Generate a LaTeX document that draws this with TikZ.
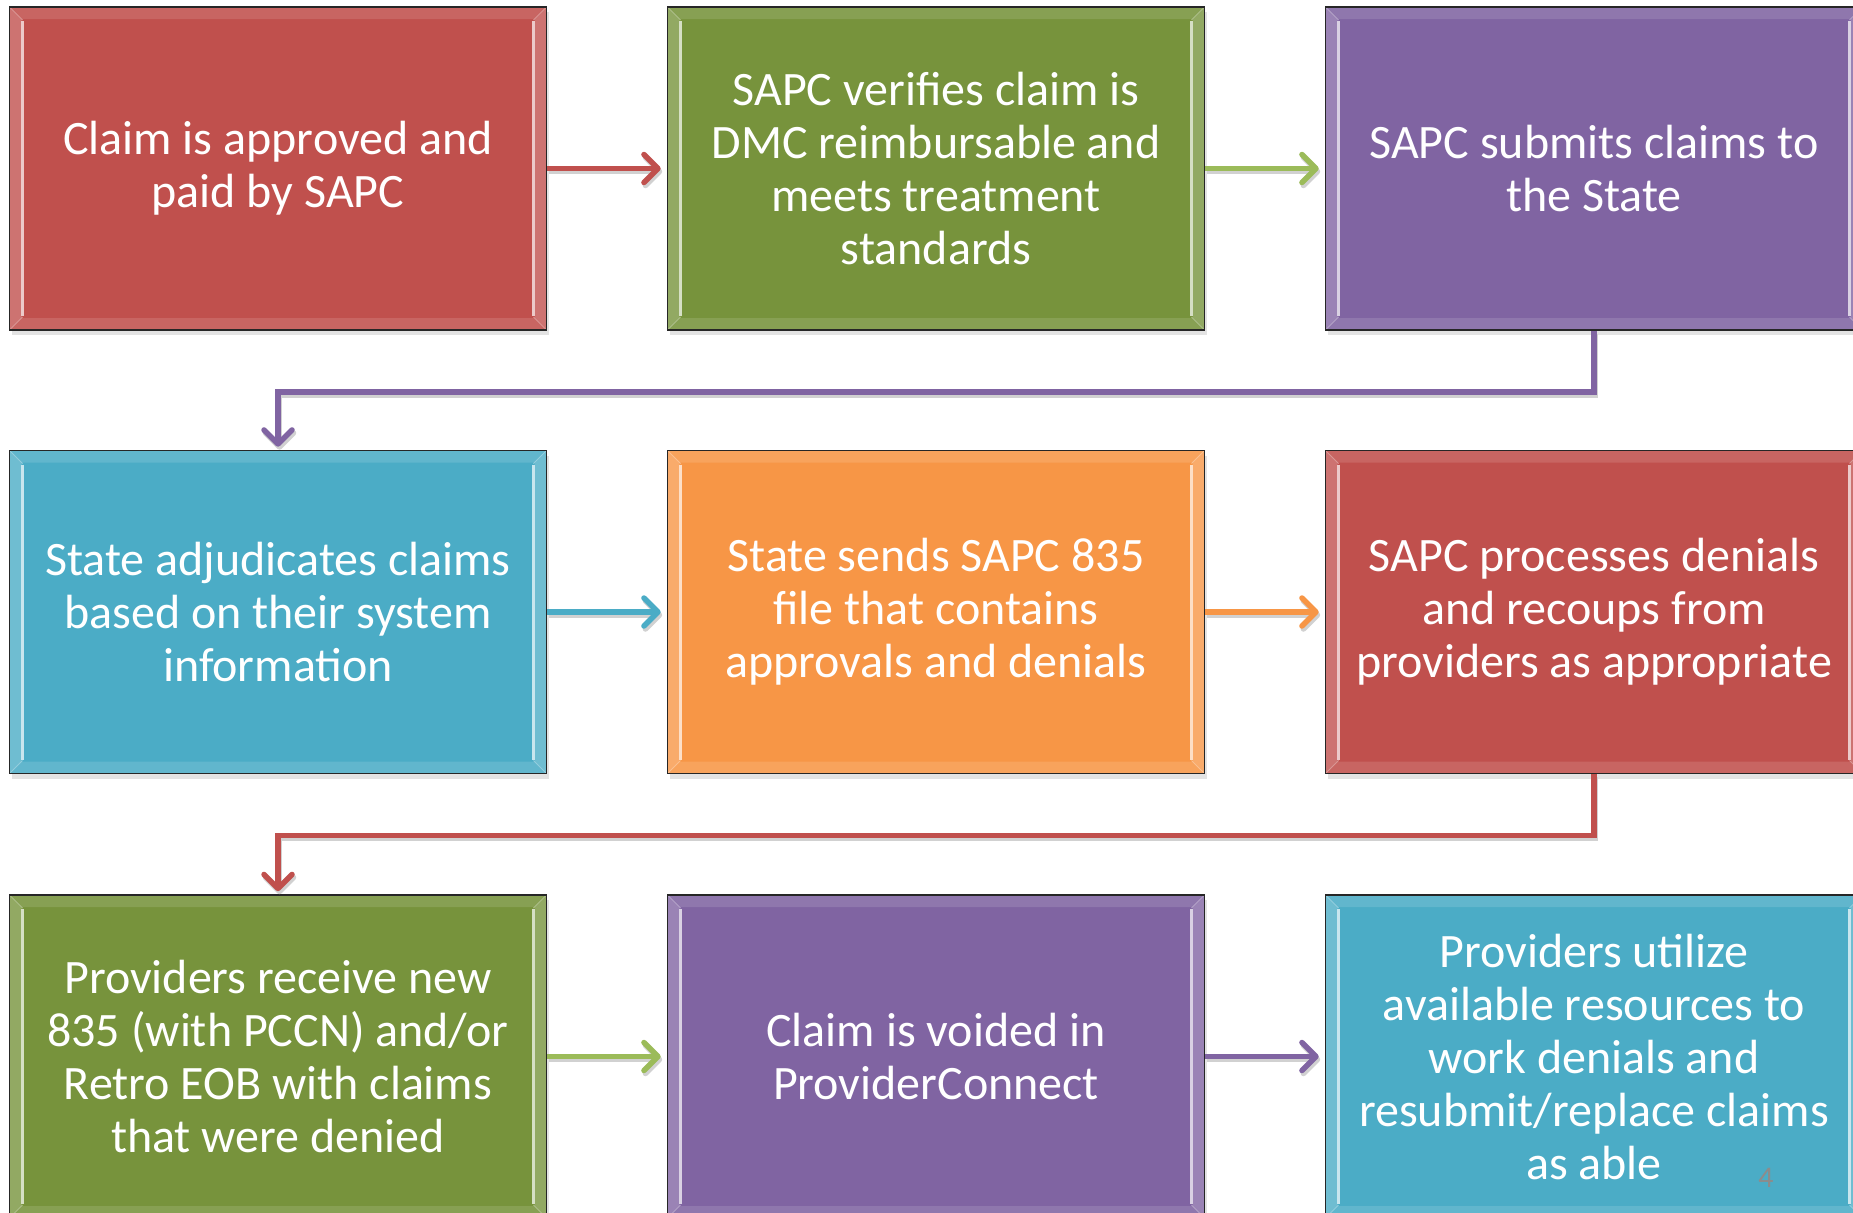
\documentclass[tikz,border=0pt]{standalone}
\usepackage{fontspec}
\setmainfont{Carlito}
\usetikzlibrary{arrows.meta,shadows}

\definecolor{cred}{HTML}{C0504D}
\definecolor{cgreen}{HTML}{77933C}
\definecolor{lgreen}{HTML}{9BBB59}
\definecolor{cpurple}{HTML}{8064A2}
\definecolor{cblue}{HTML}{4BACC6}
\definecolor{corange}{HTML}{F79646}
\definecolor{pagegray}{HTML}{8C8C8C}

\tikzset{
  panel/.style={
    draw=black!85, line width=1.6pt, fill=#1,
    minimum width=537pt, minimum height=323pt,
    text=white, align=center, inner sep=0pt,
    font=\fontsize{48}{53}\selectfont,
    drop shadow={opacity=0.22, shadow xshift=2pt, shadow yshift=-5pt},
    path picture={
      % bevelled frame: side, top and bottom facets
      \fill[#1!80!white]
        (path picture bounding box.north west) -- ++(12pt,-12pt)
        |- ([xshift=12pt,yshift=12pt]path picture bounding box.south west)
        -- (path picture bounding box.south west) -- cycle;
      \fill[#1!80!white]
        (path picture bounding box.north east) -- ++(-12pt,-12pt)
        |- ([xshift=-12pt,yshift=12pt]path picture bounding box.south east)
        -- (path picture bounding box.south east) -- cycle;
      \fill[#1!88!white]
        (path picture bounding box.north west) -- ++(12pt,-12pt)
        -| ([xshift=-12pt,yshift=-12pt]path picture bounding box.north east)
        -- (path picture bounding box.north east) -- cycle;
      \fill[#1!88!white]
        (path picture bounding box.south west) -- ++(12pt,12pt)
        -| ([xshift=-12pt,yshift=12pt]path picture bounding box.south east)
        -- (path picture bounding box.south east) -- cycle;
      % bright highlight lines along the inner edge of the side facets
      \draw[#1!30!white, line width=3.5pt]
        ([xshift=13pt,yshift=-14pt]path picture bounding box.north west)
        -- ([xshift=13pt,yshift=14pt]path picture bounding box.south west);
      \draw[#1!30!white, line width=3.5pt]
        ([xshift=-13pt,yshift=-14pt]path picture bounding box.north east)
        -- ([xshift=-13pt,yshift=14pt]path picture bounding box.south east);
      \draw[#1!60!white, line width=1pt]
        (path picture bounding box.north west) -- ++(13pt,-13pt)
        (path picture bounding box.south west) -- ++(13pt,13pt)
        (path picture bounding box.north east) -- ++(-13pt,-13pt)
        (path picture bounding box.south east) -- ++(-13pt,13pt);
    }
  },
  link/.style={
    draw=#1, line width=5.5pt,
    -{Straight Barb[length=14pt, width=28pt, round]},
    preaction={draw=black!18, line width=5.5pt, transform canvas={xshift=1.5pt, yshift=-3pt}, -{Straight Barb[length=14pt, width=28pt, round]}}
  }
}

\begin{document}
\begin{tikzpicture}[x=1pt, y=1pt]
  \path[use as bounding box] (0,0) rectangle (1853,-1213);
  \clip (0,0) rectangle (1853,-1213);

  % row 1
  \node[panel=cred]    (b1) at (278,-168.5)  {Claim is approved and\\paid by SAPC};
  \node[panel=cgreen]  (b2) at (936,-168.5)  {SAPC verifies claim is\\DMC reimbursable and\\meets treatment\\standards};
  \node[panel=cpurple] (b3) at (1594,-168.5) {SAPC submits claims to\\the State};

  % row 2
  \node[panel=cblue]   (b4) at (278,-612)    {State adjudicates claims\\based on their system\\information};
  \node[panel=corange] (b5) at (936,-612)    {State sends SAPC 835\\file that contains\\approvals and denials};
  \node[panel=cred]    (b6) at (1594,-612)   {SAPC processes denials\\and recoups from\\providers as appropriate};

  % row 3
  \node[panel=cgreen]  (b7) at (278,-1056.5) {Providers receive new\\835 (with PCCN) and/or\\Retro EOB with claims\\that were denied};
  \node[panel=cpurple] (b8) at (936,-1056.5) {Claim is voided in\\ProviderConnect};
  \node[panel=cblue]   (b9) at (1594,-1056.5) {Providers utilize\\available resources to\\work denials and\\resubmit/replace claims\\as able};

  % page number
  \node[text=pagegray, font=\fontsize{30}{34}\selectfont] (pg) at (1766,-1178) {4};

  % connectors within rows
  \draw[link=cred,    shorten >=6pt] (b1.east) -- (b2.west);
  \draw[link=lgreen,  shorten >=6pt] (b2.east) -- (b3.west);
  \draw[link=cblue,   shorten >=6pt] (b4.east) -- (b5.west);
  \draw[link=corange, shorten >=6pt] (b5.east) -- (b6.west);
  \draw[link=lgreen,  shorten >=6pt] (b7.east) -- (b8.west);
  \draw[link=cpurple, shorten >=6pt] (b8.east) -- (b9.west);

  % connectors between rows
  \draw[link=cpurple, shorten >=3pt] (b3.south) -- ++(0,-61) -| (b4.north);
  \draw[link=cred,    shorten >=3pt] (b6.south) -- ++(0,-61) -| (b7.north);
\end{tikzpicture}
\end{document}
